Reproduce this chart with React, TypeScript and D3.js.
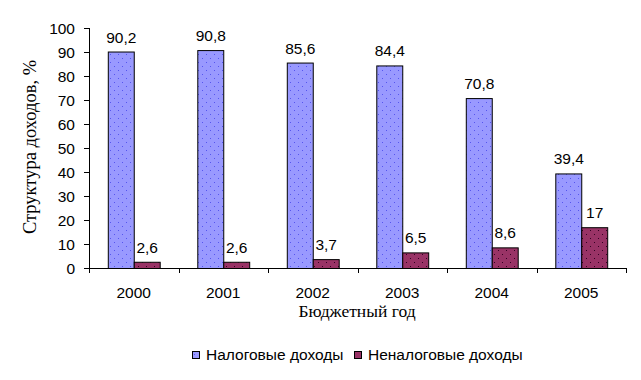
import React from "react";
import * as d3 from "d3";

const years = ["2000", "2001", "2002", "2003", "2004", "2005"];
const taxIncome = [90.2, 90.8, 85.6, 84.4, 70.8, 39.4];
const nonTaxIncome = [2.6, 2.6, 3.7, 6.5, 8.6, 17];
const seriesNames = ["Налоговые доходы", "Неналоговые доходы"];
const yTicks = [0, 10, 20, 30, 40, 50, 60, 70, 80, 90, 100];

const W = 641, H = 380;
const left = 89, right = 626, top = 28, bottom = 268;
const sans = "Liberation Sans, Arial";
const serif = "Liberation Serif, Times New Roman";
const fs = 15.5;

const fmt = (v: number) => String(v).replace(".", ",");

export default function App() {
  const x0 = d3.scaleBand<string>().domain(years).range([left, right]).paddingInner(0.42).paddingOuter(0.21);
  const x1 = d3.scaleBand<string>().domain(["a", "b"]).range([0, x0.bandwidth()]);
  const y = d3.scaleLinear().domain([0, 100]).range([bottom, top]);
  const series = [
    { key: "a", values: taxIncome, fill: "url(#pBlue)" },
    { key: "b", values: nonTaxIncome, fill: "url(#pRed)" },
  ];
  const step = (right - left) / years.length;
  return (
    <svg width={W} height={H} style={{ position: "absolute", left: 0, top: 0, background: "#fff" }}>
      <defs>
        <pattern id="pBlue" width="8" height="8" patternUnits="userSpaceOnUse">
          <rect width="8" height="8" fill="#9999FF" />
          <rect x="2" y="2" width="1" height="1" fill="#5555ee" />
          <rect x="6" y="6" width="1" height="1" fill="#5555ee" />
        </pattern>
        <pattern id="pRed" width="8" height="8" patternUnits="userSpaceOnUse">
          <rect width="8" height="8" fill="#993366" />
          <rect x="2" y="2" width="1" height="1" fill="#330022" />
          <rect x="6" y="6" width="1" height="1" fill="#330022" />
        </pattern>
      </defs>
      {years.map((yr, i) =>
        series.map((s) => {
          const bx = x0(yr)! + x1(s.key)!;
          const v = s.values[i];
          return (
            <g key={yr + s.key}>
              <rect x={bx + 0.5} y={y(v) + 0.5} width={x1.bandwidth()} height={bottom - y(v)} fill={s.fill} stroke="#000" strokeWidth={1} />
              <text x={bx + x1.bandwidth() / 2 + 0.5} y={y(v) - 9} textAnchor="middle" fontFamily={sans} fontSize={fs} fill="#000">{fmt(v)}</text>
            </g>
          );
        })
      )}
      {/* y axis */}
      <line x1={left + 0.5} x2={left + 0.5} y1={top} y2={bottom + 1} stroke="#000" />
      {yTicks.map((t) => (
        <g key={t}>
          <line x1={left - 5} x2={left} y1={Math.round(y(t)) + 0.5} y2={Math.round(y(t)) + 0.5} stroke="#000" />
          <text x={75} y={y(t) + 5.5} textAnchor="end" fontFamily={sans} fontSize={fs} fill="#000">{t}</text>
        </g>
      ))}
      {/* x axis */}
      <line x1={left} x2={right + 1} y1={bottom + 0.5} y2={bottom + 0.5} stroke="#000" />
      {d3.range(years.length + 1).map((i) => (
        <line key={i} x1={Math.round(left + i * step) + 0.5} x2={Math.round(left + i * step) + 0.5} y1={bottom} y2={bottom + 5} stroke="#000" />
      ))}
      {years.map((yr) => (
        <text key={yr} x={x0(yr)! + x0.bandwidth() / 2} y={298} textAnchor="middle" fontFamily={sans} fontSize={fs} fill="#000">{yr}</text>
      ))}
      <text x={357} y={317} textAnchor="middle" fontFamily={serif} fontSize={17.5} fill="#000">Бюджетный год</text>
      <text transform={`translate(36,147) rotate(-90)`} textAnchor="middle" fontFamily={serif} fontSize={18.5} fill="#000">Структура доходов, %</text>
      {/* legend */}
      <rect x={192.5} y={351.5} width={7} height={7} fill="url(#pBlue)" stroke="#000" />
      <text x={206} y={359.5} fontFamily={sans} fontSize={fs} fill="#000">{seriesNames[0]}</text>
      <rect x={354.5} y={351.5} width={7} height={7} fill="url(#pRed)" stroke="#000" />
      <text x={368} y={359.5} fontFamily={sans} fontSize={fs} fill="#000">{seriesNames[1]}</text>
    </svg>
  );
}
